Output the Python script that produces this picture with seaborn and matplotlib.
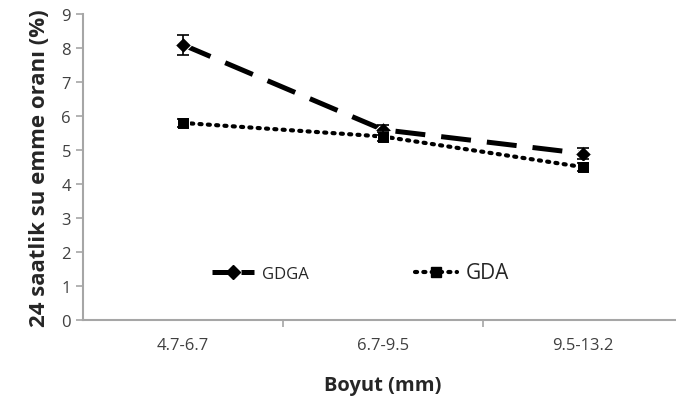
import matplotlib
matplotlib.use("Agg")
import matplotlib.pyplot as plt
import seaborn as sns
import pandas as pd
from matplotlib.lines import Line2D

sizes = ["4.7-6.7", "6.7-9.5", "9.5-13.2"]
gdga = [8.1, 5.6, 4.9]
gdga_err = [0.3, 0.15, 0.15]
gda = [5.8, 5.4, 4.5]
gda_err = [0.12, 0.12, 0.12]
y_ticks = list(range(0, 10))

sns.set_theme(style="white")
plt.rcParams["font.family"] = ["Open Sans", "DejaVu Sans"]

df = pd.DataFrame({
    "Boyut": sizes * 2,
    "Oran": gdga + gda,
    "Seri": ["GDGA"] * 3 + ["GDA"] * 3,
})
df["pos"] = list(range(len(sizes))) * 2

DASH = [6.0, 3.2]
DOT = (0, (0.5, 1.5))

fig = plt.figure(figsize=(6.76, 4.10), dpi=100)
ax = fig.add_axes([0.1225, 0.217, 0.888, 0.746])

sns.lineplot(data=df[df.Seri == "GDGA"], x="pos", y="Oran", ax=ax,
             color="black", linewidth=3.6, marker="D", markersize=8,
             legend=False)
ax.lines[-1].set_dashes(DASH)
sns.lineplot(data=df[df.Seri == "GDA"], x="pos", y="Oran", ax=ax,
             color="black", linewidth=3.0, marker="s", markersize=8,
             legend=False)
ax.lines[-1].set_linestyle(DOT)
ax.lines[-1].set_dash_capstyle("round")

ax.errorbar(range(3), gdga, yerr=gdga_err, fmt="none", ecolor="black",
            elinewidth=1.2, capsize=4, capthick=1.2)
ax.errorbar(range(3), gda, yerr=gda_err, fmt="none", ecolor="black",
            elinewidth=1.2, capsize=4, capthick=1.2)

ax.set_xlim(-0.5, 2.5)
ax.set_ylim(0, 9)
ax.set_yticks(y_ticks)
ax.set_xticks(range(3))
ax.set_xticklabels(sizes)
ax.set_xticks([0.5, 1.5], minor=True)

for s in ["top", "right"]:
    ax.spines[s].set_visible(False)
for s in ["left", "bottom"]:
    ax.spines[s].set_color("#a6a6a6")
    ax.spines[s].set_linewidth(1.5)

ax.tick_params(axis="y", which="major", length=5, width=1.2, color="#a6a6a6",
               labelsize=12, labelcolor="#404040", direction="out", left=True)
ax.tick_params(axis="x", which="major", length=0, labelsize=12,
               labelcolor="#404040", pad=12)
ax.tick_params(axis="x", which="minor", length=5, width=1.2, color="#a6a6a6",
               direction="out", bottom=True)

ax.set_xlabel("Boyut (mm)", fontsize=14.5, fontweight="bold", labelpad=16)
ax.set_ylabel("24 saatlik su emme oranı (%)", fontsize=16, fontweight="bold",
              labelpad=8)

h1 = Line2D([], [], color="black", linewidth=3.6, marker="D", markersize=7,
            dashes=[4.3, 1.5])
h2 = Line2D([], [], color="black", linewidth=3.0, marker="s", markersize=7,
            linestyle=DOT, dash_capstyle="round")
leg = ax.legend([h1, h2], ["GDGA", "GDA"], ncol=2, frameon=False,
                loc="center left", bbox_to_anchor=(0.19, 0.155),
                handlelength=2.5, columnspacing=6.4, handletextpad=0.5,
                fontsize=12)
leg.get_texts()[1].set_fontsize(15)

fig.savefig("out.png", dpi=100)
